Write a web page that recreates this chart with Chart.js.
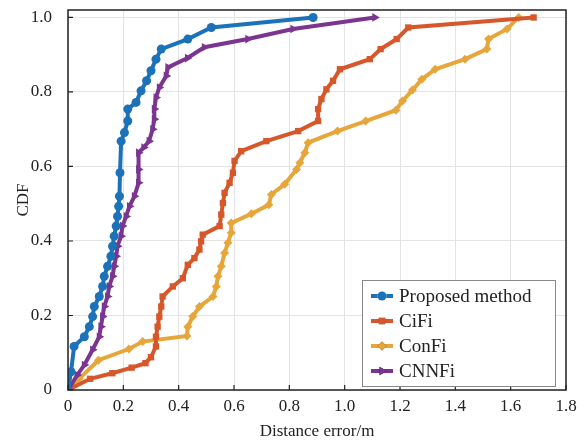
<!DOCTYPE html>
<html>
<head>
<meta charset="utf-8">
<script src="https://cdn.jsdelivr.net/npm/chart.js@4.4.0/dist/chart.umd.min.js"></script>
<style>
  html, body { margin: 0; padding: 0; background: #fff; }
  #wrap { width: 587px; height: 442px; }
</style>
</head>
<body>
<div id="wrap"><canvas id="cdfChart"></canvas></div>
<script>
// Series data (distance error in m, CDF)
const seriesNames = ['Proposed method', 'CiFi', 'ConFi', 'CNNFi'];

const propX = [0, 0.011, 0.022, 0.059, 0.077, 0.089, 0.095, 0.113, 0.125, 0.131, 0.143, 0.155, 0.161, 0.167, 0.174, 0.179, 0.183, 0.186, 0.188, 0.192, 0.204, 0.216, 0.216, 0.246, 0.264, 0.284, 0.300, 0.318, 0.337, 0.433, 0.518, 0.886];
const propY = [0, 0.049, 0.117, 0.143, 0.170, 0.197, 0.224, 0.251, 0.278, 0.305, 0.332, 0.359, 0.386, 0.413, 0.440, 0.466, 0.493, 0.520, 0.583, 0.668, 0.691, 0.722, 0.754, 0.772, 0.803, 0.830, 0.857, 0.888, 0.915, 0.942, 0.973, 1.0];

const cifiX = [0, 0.08, 0.16, 0.23, 0.28, 0.30, 0.318, 0.318, 0.324, 0.330, 0.337, 0.342, 0.379, 0.415, 0.433, 0.457, 0.475, 0.481, 0.487, 0.548, 0.554, 0.560, 0.566, 0.584, 0.596, 0.602, 0.626, 0.717, 0.832, 0.904, 0.904, 0.916, 0.934, 0.958, 0.983, 1.091, 1.130, 1.188, 1.230, 1.683];
const cifiY = [0, 0.030, 0.045, 0.060, 0.072, 0.088, 0.117, 0.143, 0.170, 0.197, 0.224, 0.251, 0.278, 0.300, 0.336, 0.354, 0.377, 0.399, 0.417, 0.440, 0.471, 0.502, 0.529, 0.556, 0.583, 0.615, 0.641, 0.668, 0.695, 0.722, 0.754, 0.781, 0.807, 0.830, 0.861, 0.888, 0.915, 0.942, 0.973, 1.0];

const confiX = [0, 0.04, 0.11, 0.22, 0.27, 0.43, 0.433, 0.451, 0.475, 0.524, 0.536, 0.542, 0.554, 0.566, 0.578, 0.590, 0.590, 0.663, 0.726, 0.735, 0.783, 0.826, 0.838, 0.856, 0.868, 0.974, 1.076, 1.185, 1.209, 1.245, 1.279, 1.327, 1.435, 1.514, 1.520, 1.587, 1.629];
const confiY = [0, 0.030, 0.080, 0.110, 0.130, 0.145, 0.170, 0.197, 0.224, 0.251, 0.278, 0.305, 0.332, 0.368, 0.395, 0.422, 0.448, 0.473, 0.497, 0.525, 0.552, 0.592, 0.610, 0.637, 0.664, 0.695, 0.722, 0.751, 0.776, 0.805, 0.834, 0.861, 0.888, 0.915, 0.942, 0.969, 1.0];

const cnnfiX = [0, 0.033, 0.059, 0.089, 0.113, 0.119, 0.125, 0.131, 0.143, 0.149, 0.161, 0.167, 0.174, 0.179, 0.192, 0.197, 0.210, 0.222, 0.240, 0.255, 0.255, 0.255, 0.274, 0.293, 0.306, 0.312, 0.312, 0.318, 0.330, 0.355, 0.361, 0.432, 0.493, 0.650, 0.813, 1.109];
const cnnfiY = [0, 0.040, 0.067, 0.108, 0.143, 0.170, 0.197, 0.224, 0.251, 0.278, 0.305, 0.332, 0.359, 0.386, 0.413, 0.440, 0.466, 0.493, 0.520, 0.556, 0.592, 0.637, 0.651, 0.668, 0.700, 0.727, 0.754, 0.785, 0.812, 0.843, 0.866, 0.891, 0.920, 0.942, 0.969, 1.0];

// Axis ticks
const xTicks = [0, 0.2, 0.4, 0.6, 0.8, 1.0, 1.2, 1.4, 1.6, 1.8];
const yTicks = [0, 0.2, 0.4, 0.6, 0.8, 1.0];

const colors = ['#1C72B8', '#D6582A', '#E6A63A', '#7B3590'];
const markers = ['circle', 'rect', 'rectRot', 'triangle'];
const markerRot = [0, 0, 0, 90];
const markerSize = [4.5, 4.5, 4.5, 5];
const serif = '"Liberation Serif", "DejaVu Serif", serif';

function toPoints(xs, ys) {
    return xs.map((x, i) => ({ x: x, y: ys[i] }));
}

const allData = [
    toPoints(propX, propY),
    toPoints(cifiX, cifiY),
    toPoints(confiX, confiY),
    toPoints(cnnfiX, cnnfiY)
];

// Draw order: Proposed on top, then CNNFi, CiFi, ConFi
const datasets = allData.map((pts, i) => ({
    label: seriesNames[i],
    data: pts,
    showLine: true,
    borderColor: colors[i],
    backgroundColor: colors[i],
    borderWidth: 4,
    pointStyle: markers[i],
    pointRotation: markerRot[i],
    pointRadius: markerSize[i],
    pointBorderWidth: 0,
    pointBackgroundColor: colors[i],
    tension: 0,
    order: [1, 3, 4, 2][i]
}));

// Frame, inside ticks and legend box
const framePlugin = {
    id: 'frame',
    afterDraw(chart) {
        const { ctx, chartArea: a, scales } = chart;
        ctx.save();
        ctx.strokeStyle = '#222';
        ctx.lineWidth = 1.5;
        ctx.strokeRect(a.left, a.top, a.right - a.left, a.bottom - a.top);

        ctx.lineWidth = 1.2;
        ctx.beginPath();
        xTicks.forEach(v => {
            const px = scales.x.getPixelForValue(v);
            ctx.moveTo(px, a.bottom);
            ctx.lineTo(px, a.bottom - 5);
        });
        yTicks.forEach(v => {
            const py = scales.y.getPixelForValue(v);
            ctx.moveTo(a.left, py);
            ctx.lineTo(a.left + 5, py);
        });
        ctx.stroke();

        // legend
        const lx = 362, ly = 280, lw = 193, lh = 106;
        ctx.fillStyle = '#fff';
        ctx.fillRect(lx, ly, lw, lh);
        ctx.strokeStyle = '#888';
        ctx.lineWidth = 1;
        ctx.strokeRect(lx + 0.5, ly + 0.5, lw, lh);
        ctx.font = '19px ' + serif;
        ctx.textBaseline = 'middle';
        seriesNames.forEach((name, i) => {
            const cy = ly + 16 + i * 25;
            ctx.strokeStyle = colors[i];
            ctx.lineWidth = 4;
            ctx.beginPath();
            ctx.moveTo(lx + 9, cy);
            ctx.lineTo(lx + 31, cy);
            ctx.stroke();
            Chart.helpers.drawPoint(ctx, {
                pointStyle: markers[i],
                rotation: markerRot[i],
                radius: markerSize[i],
                borderWidth: 0
            }, lx + 20, cy);
            ctx.fillStyle = colors[i];
            ctx.fill();
            ctx.fillStyle = '#222';
            ctx.fillText(name, lx + 37, cy + 1);
        });
        ctx.restore();
    }
};

function noOverflow(s) {
    s.paddingTop = 0;
    s.paddingBottom = 0;
    s.paddingLeft = 0;
    s.paddingRight = 0;
}

const ctx = document.getElementById('cdfChart').getContext('2d');
new Chart(ctx, {
    type: 'scatter',
    data: { datasets },
    options: {
        responsive: true,
        maintainAspectRatio: false,
        animation: false,
        layout: { padding: { left: 0, right: 21, top: 10, bottom: 0 } },
        plugins: {
            legend: { display: false },
            tooltip: { enabled: false }
        },
        scales: {
            x: {
                type: 'linear',
                min: 0,
                max: 1.8,
                afterFit: s => { s.height = 52; noOverflow(s); },
                afterBuildTicks: s => { s.ticks = xTicks.map(v => ({ value: v })); },
                grid: { color: '#e4e4e4', drawTicks: false },
                border: { display: false },
                ticks: {
                    padding: 6,
                    color: '#222',
                    font: { family: serif, size: 17 },
                    callback: v => (v === 0 ? '0' : v.toFixed(1))
                },
                title: {
                    display: true,
                    text: 'Distance error/m',
                    color: '#222',
                    font: { family: serif, size: 17 },
                    padding: { top: 0, bottom: 0 }
                }
            },
            y: {
                type: 'linear',
                min: 0,
                max: 1.02,
                afterFit: s => { s.width = 68; noOverflow(s); },
                afterBuildTicks: s => { s.ticks = yTicks.map(v => ({ value: v })); },
                grid: { color: '#e4e4e4', drawTicks: false },
                border: { display: false },
                ticks: {
                    padding: 16,
                    color: '#222',
                    font: { family: serif, size: 17 },
                    callback: v => (v === 0 ? '0' : v.toFixed(1))
                },
                title: {
                    display: true,
                    text: 'CDF',
                    color: '#222',
                    font: { family: serif, size: 17 },
                    padding: { top: 13, bottom: 0 }
                }
            }
        }
    },
    plugins: [framePlugin]
});
</script>
</body>
</html>
